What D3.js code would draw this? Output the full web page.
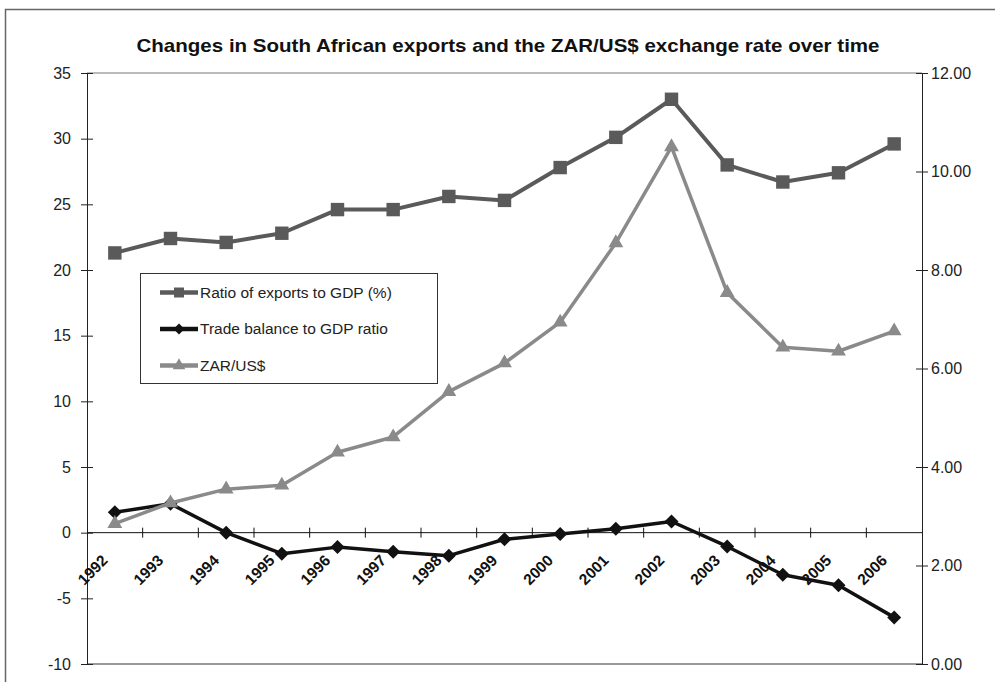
<!DOCTYPE html>
<html>
<head>
<meta charset="utf-8">
<script src="https://cdn.jsdelivr.net/npm/d3@7"></script>
<style>
  body { margin: 0; background: #fff; }
  svg { display: block; font-family: "Liberation Sans", Arial, sans-serif; }
</style>
</head>
<body>
<svg id="chart" width="995" height="682"></svg>
<script>
// chart data
var years = ['1992','1993','1994','1995','1996','1997','1998','1999','2000','2001','2002','2003','2004','2005','2006'];
var exportsRatio = [21.3, 22.4, 22.1, 22.8, 24.6, 24.6, 25.6, 25.3, 27.8, 30.1, 33.0, 28.0, 26.7, 27.4, 29.6];
var tradeBalance = [1.55, 2.2, 0.0, -1.6, -1.1, -1.45, -1.75, -0.5, -0.1, 0.3, 0.85, -1.05, -3.2, -4.0, -6.45];
var zarUsd = [2.85, 3.27, 3.55, 3.63, 4.30, 4.61, 5.53, 6.11, 6.94, 8.55, 10.5, 7.54, 6.43, 6.35, 6.76];
var leftTicks = [-10, -5, 0, 5, 10, 15, 20, 25, 30, 35];
var rightTicks = [0, 2, 4, 6, 8, 10, 12];
var seriesNames = ['Ratio of exports to GDP (%)', 'Trade balance to GDP ratio', 'ZAR/US$'];

var svg = d3.select('#chart');
var plotLeft = 87, plotRight = 922, plotTop = 73, plotBottom = 664;

// outer frame (runs off the right and bottom edge like the scan)
svg.append('rect')
  .attr('x', 5.5).attr('y', 9.5).attr('width', 1000).attr('height', 700)
  .attr('fill', 'none').attr('stroke', '#666').attr('stroke-width', 1.5);

svg.append('text')
  .attr('x', 508).attr('y', 52)
  .attr('text-anchor', 'middle')
  .attr('font-size', 18.5).attr('font-weight', 'bold')
  .attr('textLength', 743).attr('lengthAdjust', 'spacingAndGlyphs')
  .attr('fill', '#111')
  .text('Changes in South African exports and the ZAR/US$ exchange rate over time');

var x = d3.scaleBand().domain(years).range([plotLeft, plotRight]);
var y = d3.scaleLinear().domain([-10, 35]).range([plotBottom, plotTop]);
var y2 = d3.scaleLinear().domain([0, 12]).range([plotBottom, plotTop]);
var cx = function(d, i) { return x(years[i]) + x.bandwidth() / 2; };

// plot area top / bottom border
svg.append('line').attr('x1', plotLeft).attr('x2', plotRight).attr('y1', plotTop).attr('y2', plotTop)
  .attr('stroke', '#777').attr('stroke-width', 1);
svg.append('line').attr('x1', plotLeft).attr('x2', plotRight).attr('y1', plotBottom).attr('y2', plotBottom)
  .attr('stroke', '#999').attr('stroke-width', 2);

// left axis (plain hyphen for negatives, like the original)
var gl = svg.append('g').attr('transform', 'translate(' + plotLeft + ',0)')
  .call(d3.axisLeft(y).tickValues(leftTicks).tickSize(6).tickPadding(10).tickFormat(function(d) { return String(d); }));
gl.select('.domain').attr('stroke', '#222');
gl.selectAll('.tick line').attr('x1', -6).attr('x2', 6).attr('stroke', '#222');
gl.selectAll('.tick text').attr('font-size', 16).attr('fill', '#222')
  .attr('font-family', '"Liberation Sans", Arial, sans-serif');

// right axis
var gr = svg.append('g').attr('transform', 'translate(' + plotRight + ',0)')
  .call(d3.axisRight(y2).tickValues(rightTicks).tickSize(6).tickPadding(3).tickFormat(d3.format('.2f')));
gr.select('.domain').attr('stroke', '#222');
gr.selectAll('.tick line').attr('x1', -6).attr('x2', 6).attr('stroke', '#222');
gr.selectAll('.tick text').attr('font-size', 16).attr('fill', '#222')
  .attr('font-family', '"Liberation Sans", Arial, sans-serif');

// category axis on the zero line
var y0 = y(0);
svg.append('line').attr('x1', plotLeft).attr('x2', plotRight).attr('y1', y0).attr('y2', y0)
  .attr('stroke', '#111').attr('stroke-width', 1);
svg.append('g').selectAll('line').data(years.slice(1)).enter().append('line')
  .attr('x1', function(d) { return x(d); }).attr('x2', function(d) { return x(d); })
  .attr('y1', y0 - 5).attr('y2', y0 + 5)
  .attr('stroke', '#111');
svg.append('g').selectAll('text').data(years).enter().append('text')
  .attr('transform', function(d) {
    return 'translate(' + (x(d) + x.bandwidth() / 2 - 10) + ',' + (y0 + 25) + ') rotate(-45)';
  })
  .attr('text-anchor', 'end').attr('dy', '0.35em')
  .attr('font-size', 15.5).attr('font-weight', 'bold').attr('fill', '#111')
  .text(function(d) { return d; });

// marker shapes
var squarePath = d3.symbol().type(d3.symbolSquare).size(180)();
var trianglePath = d3.symbol().type(d3.symbolTriangle).size(95)();
function diamondPath(r) { return 'M0,' + (-r) + 'L' + r + ',0L0,' + r + 'L' + (-r) + ',0Z'; }

function drawSeries(values, yScale, color, width, shape) {
  var line = d3.line()
    .x(cx)
    .y(function(d) { return yScale(d); });
  svg.append('path').datum(values)
    .attr('d', line).attr('fill', 'none')
    .attr('stroke', color).attr('stroke-width', width).attr('stroke-linejoin', 'round');
  svg.append('g').selectAll('path').data(values).enter().append('path')
    .attr('transform', function(d, i) { return 'translate(' + cx(d, i) + ',' + yScale(d) + ')'; })
    .attr('d', shape).attr('fill', color);
}

drawSeries(exportsRatio, y, '#5a5a5a', 4, squarePath);
drawSeries(tradeBalance, y, '#111', 3.5, diamondPath(7));
drawSeries(zarUsd, y2, '#8a8a8a', 3.5, trianglePath);

// legend
var legend = svg.append('g');
legend.append('rect').attr('x', 140.5).attr('y', 273.5).attr('width', 297).attr('height', 110)
  .attr('fill', '#fff').attr('stroke', '#333').attr('stroke-width', 1);
var legendColors = ['#5a5a5a', '#111', '#8a8a8a'];
var legendShapes = [d3.symbol().type(d3.symbolSquare).size(100)(), diamondPath(5.5), d3.symbol().type(d3.symbolTriangle).size(70)()];
var rowY = [292.5, 329, 365.5];
seriesNames.forEach(function(name, i) {
  legend.append('line').attr('x1', 160).attr('x2', 198).attr('y1', rowY[i]).attr('y2', rowY[i])
    .attr('stroke', legendColors[i]).attr('stroke-width', 4.5);
  legend.append('path').attr('d', legendShapes[i])
    .attr('transform', 'translate(179,' + rowY[i] + ')').attr('fill', legendColors[i]);
  legend.append('text').attr('x', 200).attr('y', rowY[i]).attr('dy', '0.35em')
    .attr('font-size', 15.5).attr('fill', '#222').text(name);
});
</script>
</body>
</html>
